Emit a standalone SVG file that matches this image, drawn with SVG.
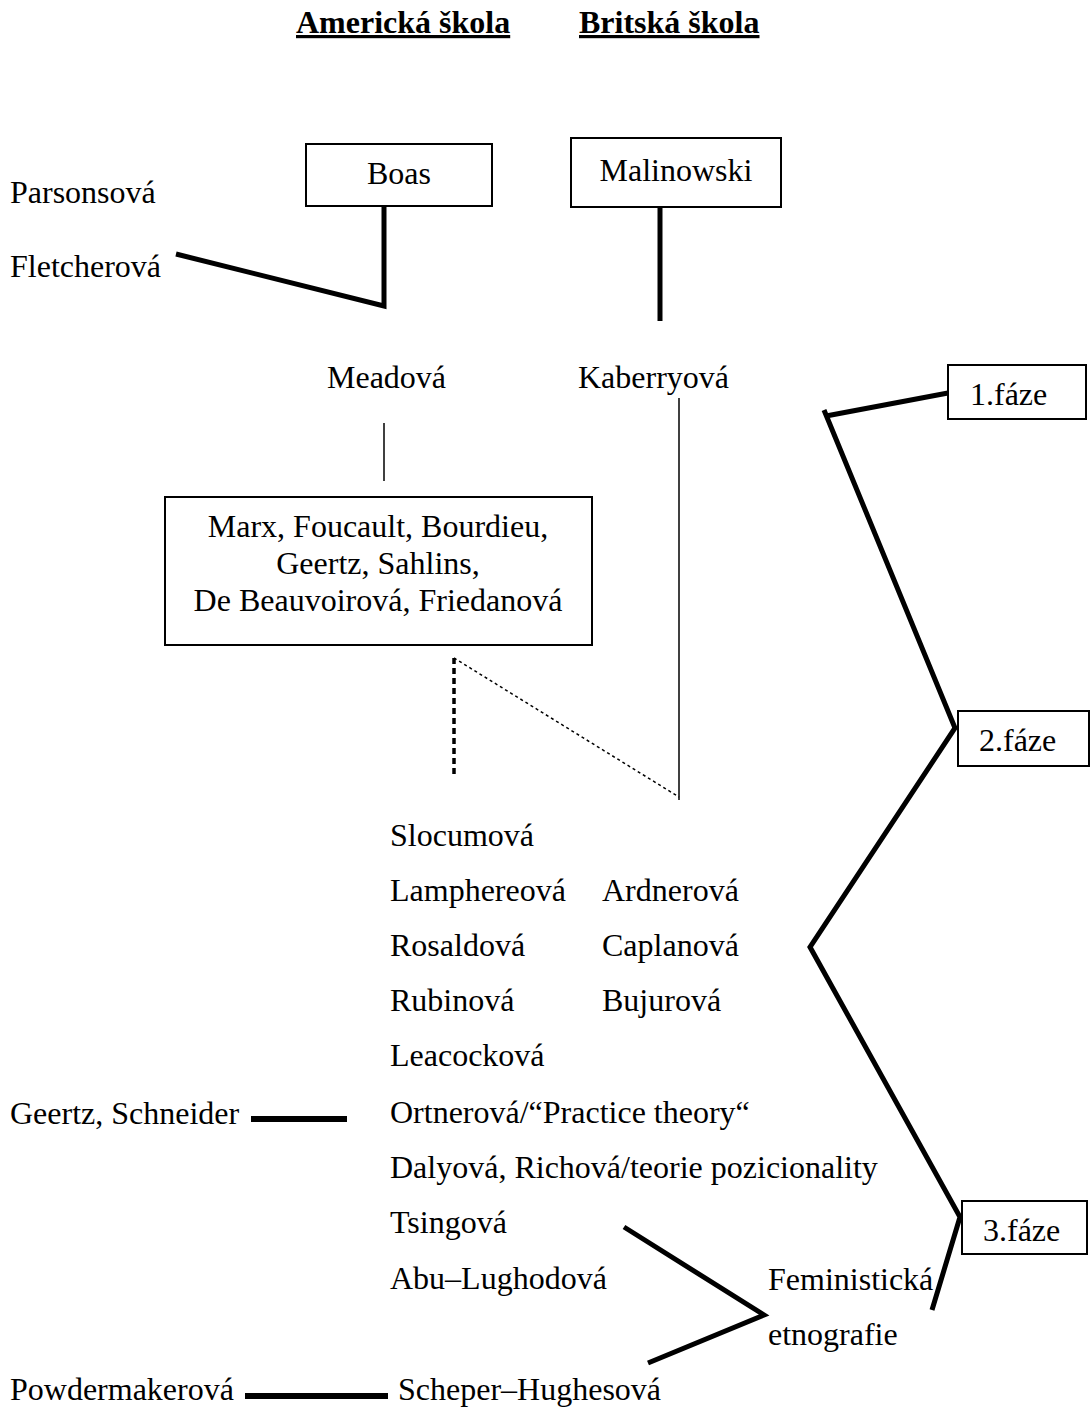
<svg xmlns="http://www.w3.org/2000/svg" width="1091" height="1407" viewBox="0 0 1091 1407">
<style>
text{font-family:"Liberation Serif","Times New Roman",serif;font-size:32px;fill:#000}
.h{font-weight:bold;text-decoration:underline}
.c{text-anchor:middle}
.box{fill:#fff;stroke:#000;stroke-width:2}
.thick{stroke:#000;stroke-width:5;fill:none}
.thin{stroke:#000;stroke-width:1.5;fill:none}
</style>
<rect width="1091" height="1407" fill="#fff"/>
<g id="headings">
<text class="h" x="296" y="33">Americká škola</text>
<text class="h" x="579" y="33">Britská škola</text>
</g>
<g id="connectors">
<path class="thick" d="M384 206 V306 L176 254"/>
<path class="thick" d="M660 207 V321"/>
<path class="thin" d="M384 423 V481"/>
<path class="thin" d="M679 398 V800"/>
<path stroke="#000" stroke-width="3.5" stroke-dasharray="6,4" fill="none" d="M454 658 V777"/>
<path stroke="#000" stroke-width="1.5" stroke-dasharray="3,3" fill="none" d="M454 658 L679 797"/>
<path class="thick" d="M948 393 L826 416"/>
<path class="thick" d="M824 410 L955 728 L810 947 L960 1217 L932 1310"/>
<path class="thick" d="M624 1227 L764 1315 L648 1363"/>
<path stroke="#000" stroke-width="6" d="M251 1119 H347"/>
<path stroke="#000" stroke-width="6" d="M245 1396 H388"/>
</g>
<g id="boas"><rect class="box" x="306" y="144" width="186" height="62"/><text class="c" x="399" y="184">Boas</text></g>
<g id="malinowski"><rect class="box" x="571" y="138" width="210" height="69"/><text class="c" x="676" y="181">Malinowski</text></g>
<g id="parsonsova"><text x="10" y="203">Parsonsová</text></g>
<g id="fletcherova"><text x="10" y="277">Fletcherová</text></g>
<g id="meadova"><text x="327" y="388">Meadová</text></g>
<g id="kaberryova"><text x="578" y="388">Kaberryová</text></g>
<g id="theorists"><rect class="box" x="165" y="497" width="427" height="148"/>
<text class="c" x="378" y="537">Marx, Foucault, Bourdieu,</text>
<text class="c" x="378" y="574">Geertz, Sahlins,</text>
<text class="c" x="378" y="611">De Beauvoirová, Friedanová</text></g>
<g id="faze1"><rect class="box" x="948" y="365" width="138" height="54"/><text x="970" y="405">1.fáze</text></g>
<g id="faze2"><rect class="box" x="958" y="711" width="131" height="55"/><text x="979" y="751">2.fáze</text></g>
<g id="faze3"><rect class="box" x="962" y="1201" width="125" height="53"/><text x="983" y="1241">3.fáze</text></g>
<g id="list">
<text x="390" y="846">Slocumová</text>
<text x="390" y="901">Lamphereová</text>
<text x="602" y="901">Ardnerová</text>
<text x="390" y="956">Rosaldová</text>
<text x="602" y="956">Caplanová</text>
<text x="390" y="1011">Rubinová</text>
<text x="602" y="1011">Bujurová</text>
<text x="390" y="1066">Leacocková</text>
<text x="390" y="1123">Ortnerová/“Practice theory“</text>
<text x="390" y="1178">Dalyová, Richová/teorie pozicionality</text>
<text x="390" y="1233">Tsingová</text>
<text x="390" y="1289">Abu–Lughodová</text>
</g>
<g id="geertz"><text x="10" y="1124">Geertz, Schneider</text></g>
<g id="feministicka"><text x="768" y="1290">Feministická</text><text x="768" y="1345">etnografie</text></g>
<g id="powdermakerova"><text x="10" y="1400">Powdermakerová</text></g>
<g id="scheper"><text x="398" y="1400">Scheper–Hughesová</text></g>
</svg>
